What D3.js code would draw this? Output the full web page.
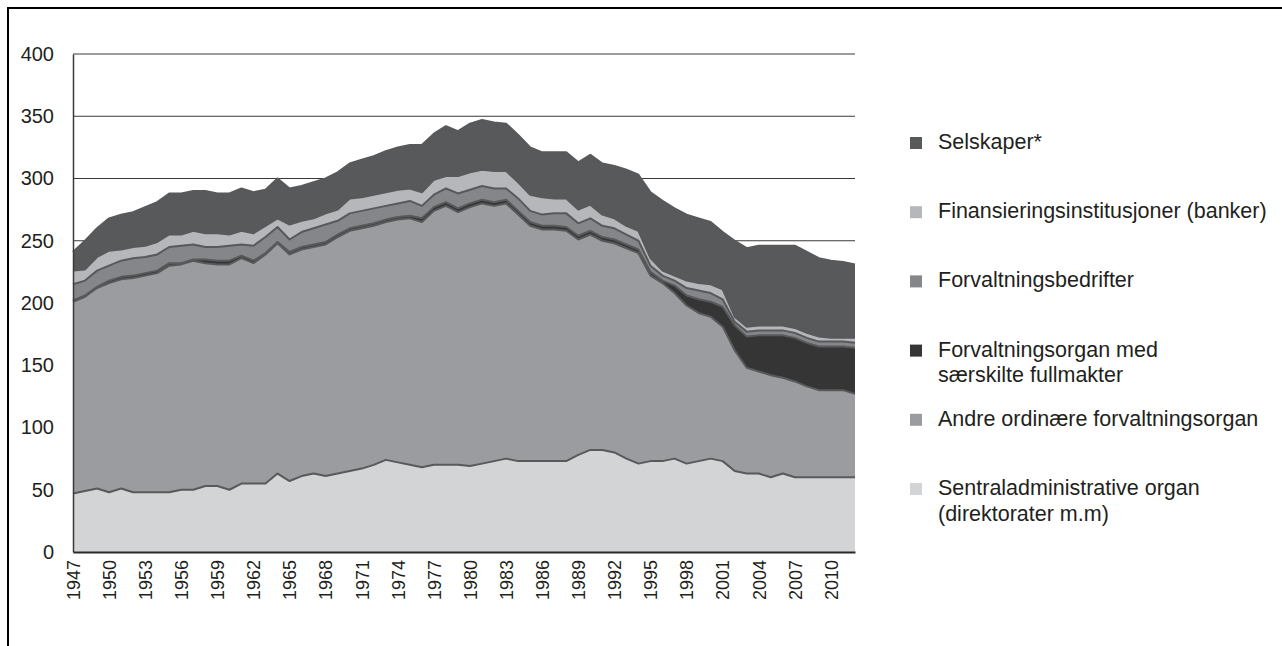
<!DOCTYPE html>
<html>
<head>
<meta charset="utf-8">
<script src="https://cdn.jsdelivr.net/npm/d3@7"></script>
<style>
  body { margin: 0; background: #fff; }
  svg { display: block; font-family: "Liberation Sans", Arial, sans-serif; }
</style>
</head>
<body>
<svg id="chart" width="1282" height="646"></svg>
<script>
// Years 1947-2012, one point per year
const years = d3.range(1947, 2013);
const xTickYears = [1947, 1950, 1953, 1956, 1959, 1962, 1965, 1968, 1971, 1974, 1977,
                    1980, 1983, 1986, 1989, 1992, 1995, 1998, 2001, 2004, 2007, 2010];
const yTicks = [0, 50, 100, 150, 200, 250, 300, 350, 400];

// Series values, bottom to top
const sentral = [47,49,51,48,51,48,48,48,48,50, 50,53,53,50,55,55,55,63,57,61,
                 63,61,63,65,67,70,74,72,70,68, 70,70,70,69,71,73,75,73,73,73,
                 73,73,78,82,82,80,75,71,73,73, 75,71,73,75,73,65,63,63,60,63,
                 60,60,60,60,60,60];
const andre = [154,156,161,168,168,172,174,176,182,181, 184,179,178,181,181,177,184,185,182,182,
               182,186,190,193,193,192,191,195,198,197, 204,208,203,208,209,205,205,198,189,186,
               186,185,173,173,168,168,169,169,149,143, 133,127,119,114,108,97,85,82,82,77,
               77,73,70,70,70,67];
const saerskilte = [1,1,1,2,2,2,2,2,2,1, 1,3,3,3,2,2,1,1,2,2,
                    2,2,2,2,2,2,2,2,2,3, 3,3,3,3,3,3,3,3,3,3,
                    3,3,3,3,3,3,3,3,3,2, 6,8,11,12,16,20,25,29,32,34,
                    35,35,35,35,35,37];
const bedrifter = [13,12,13,12,13,14,13,13,13,14, 12,10,11,12,9,12,13,12,10,12,
                   13,14,11,12,12,12,11,11,12,10, 10,11,12,11,11,11,9,10,9,9,
                   10,11,10,10,9,9,8,7,5,4, 4,6,7,7,6,3,4,4,4,4,
                   4,4,4,4,4,4];
const finans = [11,9,11,12,9,9,9,10,10,9, 11,11,11,9,11,10,9,7,12,9,
                8,9,9,12,11,11,11,11,10,11, 12,10,14,14,13,14,14,13,13,14,
                12,12,11,11,9,8,7,8,6,4, 4,6,6,7,8,4,4,4,4,4,
                4,4,4,3,3,4];
const selskaper = [15,23,23,26,28,28,31,32,33,33, 32,34,32,33,34,33,29,32,29,28,
                   29,28,30,28,30,31,33,34,35,38, 37,40,36,39,40,39,38,38,38,36,
                   37,37,38,40,41,42,45,45,53,56, 54,53,52,50,46,61,63,64,64,64,
                   66,65,63,62,61,59];

const keys = ['sentral', 'andre', 'saerskilte', 'bedrifter', 'finans', 'selskaper'];
const seriesValues = { sentral, andre, saerskilte, bedrifter, finans, selskaper };
const seriesLabels = {
    sentral: ['Sentraladministrative organ', '(direktorater m.m)'],
    andre: ['Andre ordinære forvaltningsorgan'],
    saerskilte: ['Forvaltningsorgan med', 'særskilte fullmakter'],
    bedrifter: ['Forvaltningsbedrifter'],
    finans: ['Finansieringsinstitusjoner (banker)'],
    selskaper: ['Selskaper*']
};
const seriesColors = {
    sentral: '#d3d4d6',
    andre: '#9b9c9f',
    saerskilte: '#353536',
    bedrifter: '#85868a',
    finans: '#b6b7ba',
    selskaper: '#58595b'
};

const svg = d3.select('#chart');
const plot = { left: 73, right: 855, top: 54, bottom: 552 };

const x = d3.scaleLinear().domain([1947, 2012]).range([plot.left, plot.right]);
const y = d3.scaleLinear().domain([0, 400]).range([plot.bottom, plot.top]);

// outer frame (left and top edges only are visible)
svg.append('path')
    .attr('d', 'M8,646V8H1282')
    .attr('fill', 'none')
    .attr('stroke', '#000')
    .attr('stroke-width', 2);

// gridlines
svg.append('g')
    .selectAll('line')
    .data(yTicks.filter(t => t > 0))
    .enter().append('line')
    .attr('x1', plot.left)
    .attr('x2', plot.right)
    .attr('y1', d => y(d))
    .attr('y2', d => y(d))
    .attr('stroke', '#3a3a3a')
    .attr('stroke-width', 1);

// stacked areas
const rows = years.map((yr, i) => {
    const row = { year: yr };
    keys.forEach(k => { row[k] = seriesValues[k][i]; });
    return row;
});
const stacked = d3.stack().keys(keys)(rows);

const area = d3.area()
    .x(d => x(d.data.year))
    .y0(d => y(d[0]))
    .y1(d => y(d[1]));

const topLine = d3.line()
    .x(d => x(d.data.year))
    .y(d => y(d[1]));

svg.append('g')
    .selectAll('path')
    .data(stacked)
    .enter().append('path')
    .attr('fill', d => seriesColors[d.key])
    .attr('d', area);

// darker edge along the top of every band
svg.append('g')
    .selectAll('path')
    .data(stacked)
    .enter().append('path')
    .attr('fill', 'none')
    .attr('stroke', '#58595b')
    .attr('stroke-width', 2)
    .attr('stroke-linejoin', 'round')
    .attr('d', topLine);

// axes
const yAxis = svg.append('g')
    .attr('transform', `translate(${plot.left},0)`)
    .call(d3.axisLeft(y).tickValues(yTicks).tickSize(0).tickSizeOuter(0).tickPadding(19));
yAxis.select('.domain').attr('stroke', '#3a3a3a').attr('stroke-width', 1.5);
yAxis.selectAll('text')
    .attr('font-size', 20)
    .attr('font-family', '"Liberation Sans", Arial, sans-serif')
    .attr('fill', '#231f20');

const xAxis = svg.append('g')
    .attr('transform', `translate(0,${plot.bottom})`)
    .call(d3.axisBottom(x).tickValues(xTickYears).tickFormat(d => d).tickSize(0).tickSizeOuter(0));
xAxis.select('.domain').attr('stroke', '#2a2a2a').attr('stroke-width', 2);
xAxis.selectAll('text')
    .attr('font-size', 18)
    .attr('font-family', '"Liberation Sans", Arial, sans-serif')
    .attr('fill', '#231f20')
    .attr('transform', 'rotate(-90)')
    .attr('text-anchor', 'end')
    .attr('x', -8)
    .attr('y', 0)
    .attr('dy', '0.35em');

// legend, top entry is the top series
const legendKeys = keys.slice().reverse();
const legend = svg.append('g')
    .selectAll('g')
    .data(legendKeys)
    .enter().append('g')
    .attr('transform', (d, i) => `translate(910,${149 + i * 69.2})`);

legend.append('rect')
    .attr('x', 0)
    .attr('y', -12)
    .attr('width', 12)
    .attr('height', 12)
    .attr('fill', d => seriesColors[d]);

legend.append('text')
    .attr('x', 28)
    .attr('y', 0)
    .attr('font-size', 21.5)
    .attr('fill', '#231f20')
    .selectAll('tspan')
    .data(d => seriesLabels[d])
    .enter().append('tspan')
    .attr('x', 28)
    .attr('dy', (d, i) => i === 0 ? 0 : 25.7)
    .text(d => d);
</script>
</body>
</html>
